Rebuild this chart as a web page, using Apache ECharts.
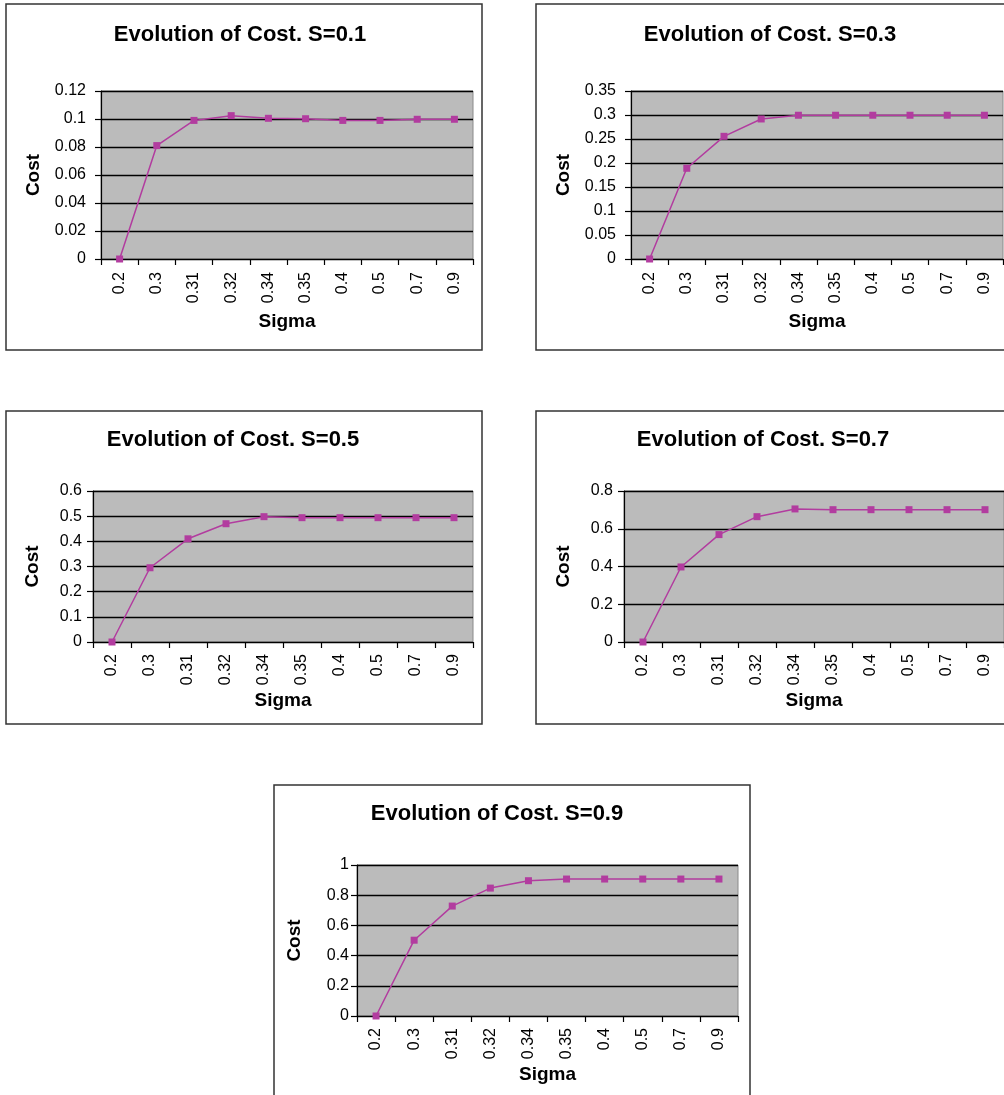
<!DOCTYPE html>
<html>
<head>
<meta charset="utf-8">
<script src="https://cdn.jsdelivr.net/npm/echarts@6/dist/echarts.min.js"></script>
<style>
html,body{margin:0;padding:0;background:#fff;}
#c{width:1004px;height:1095px;}
</style>
</head>
<body>
<div id="c"></div>
<script>
// ---- data ----
var sigma = ['0.2','0.3','0.31','0.32','0.34','0.35','0.4','0.5','0.7','0.9'];
var cost_S01 = [0, 0.081, 0.099, 0.1024, 0.1005, 0.1002, 0.099, 0.099, 0.0998, 0.0998];
var cost_S03 = [0, 0.189, 0.2556, 0.2917, 0.2995, 0.2995, 0.2995, 0.2995, 0.2995, 0.2995];
var cost_S05 = [0, 0.295, 0.41, 0.47, 0.498, 0.494, 0.494, 0.494, 0.494, 0.494];
var cost_S07 = [0, 0.3975, 0.569, 0.664, 0.705, 0.701, 0.701, 0.701, 0.701, 0.701];
var cost_S09 = [0, 0.502, 0.728, 0.847, 0.896, 0.907, 0.907, 0.907, 0.907, 0.907];
var titles = ['Evolution of Cost. S=0.1','Evolution of Cost. S=0.3','Evolution of Cost. S=0.5','Evolution of Cost. S=0.7','Evolution of Cost. S=0.9'];
var yMax = [0.12, 0.35, 0.6, 0.8, 1];
var yStep = [0.02, 0.05, 0.1, 0.2, 0.2];
var seriesData = [cost_S01, cost_S03, cost_S05, cost_S07, cost_S09];

// ---- layout ----
var FONT = 'Liberation Sans, Arial, sans-serif';
var layout = [
  {grid:{left:101,top:91,width:372,height:168}, frame:[6,4,476,346], title:[240,24], ylm:15, xlm:13, xng:53, yng:58},
  {grid:{left:631,top:91,width:372,height:168}, frame:[536,4,476,346], title:[770,24], ylm:15, xlm:13, xng:53, yng:58},
  {grid:{left:93,top:491,width:380,height:151}, frame:[6,411,476,313], title:[233,429], ylm:11, xlm:12, xng:49, yng:51},
  {grid:{left:624,top:491,width:380,height:151}, frame:[536,411,476,313], title:[763,429], ylm:11, xlm:12, xng:49, yng:51},
  {grid:{left:357,top:865,width:381,height:151}, frame:[274,785,476,330], title:[497,803], ylm:8, xlm:12, xng:49, yng:53}
];

var grids=[], xAxes=[], yAxes=[], series=[], graphics=[];
layout.forEach(function(L,i){
  grids.push(Object.assign({show:true, backgroundColor:'#bbbbbb', borderColor:'#8a8a8a', borderWidth:1}, L.grid));
  xAxes.push({
    gridIndex:i, type:'category', data:sigma, boundaryGap:true,
    name:'Sigma', nameLocation:'middle', nameGap:L.xng,
    nameTextStyle:{fontFamily:FONT, fontWeight:'bold', fontSize:19, color:'#000'},
    axisLine:{show:true, lineStyle:{color:'#000', width:1.2}},
    axisTick:{show:true, length:6, lineStyle:{color:'#000', width:1.2}},
    axisLabel:{rotate:90, margin:L.xlm, fontFamily:FONT, fontSize:16, color:'#000', interval:0},
    splitLine:{show:false}
  });
  yAxes.push({
    gridIndex:i, type:'value', min:0, max:yMax[i], interval:yStep[i],
    name:'Cost', nameLocation:'middle', nameGap:L.yng,
    nameTextStyle:{fontFamily:FONT, fontWeight:'bold', fontSize:19, color:'#000'},
    axisLine:{show:true, lineStyle:{color:'#000', width:1.2}},
    axisTick:{show:true, length:6, lineStyle:{color:'#000', width:1.2}},
    axisLabel:{margin:L.ylm, fontFamily:FONT, fontSize:16, color:'#000',
      formatter:function(v){return String(+v.toFixed(4));}},
    splitLine:{show:true, lineStyle:{color:'#000', width:1.3}}
  });
  series.push({
    type:'line', xAxisIndex:i, yAxisIndex:i, data:seriesData[i],
    symbol:'rect', symbolSize:7, showSymbol:true,
    lineStyle:{color:'#b23c9f', width:1.5},
    itemStyle:{color:'#b23c9f'}, animation:false
  });
  graphics.push({type:'rect', shape:{x:L.frame[0], y:L.frame[1], width:L.frame[2], height:L.frame[3]},
    style:{fill:'none', stroke:'#333', lineWidth:1.5}, z:-1});
  graphics.push({type:'text', x:L.title[0], y:L.title[1],
    style:{text:titles[i], fill:'#000', font:'bold 22px '+FONT, textAlign:'center', textVerticalAlign:'top'}});
});

var chart = echarts.init(document.getElementById('c'));
chart.setOption({
  animation:false,
  backgroundColor:'#fff',
  grid:grids, xAxis:xAxes, yAxis:yAxes, series:series, graphic:graphics
});
</script>
</body>
</html>
